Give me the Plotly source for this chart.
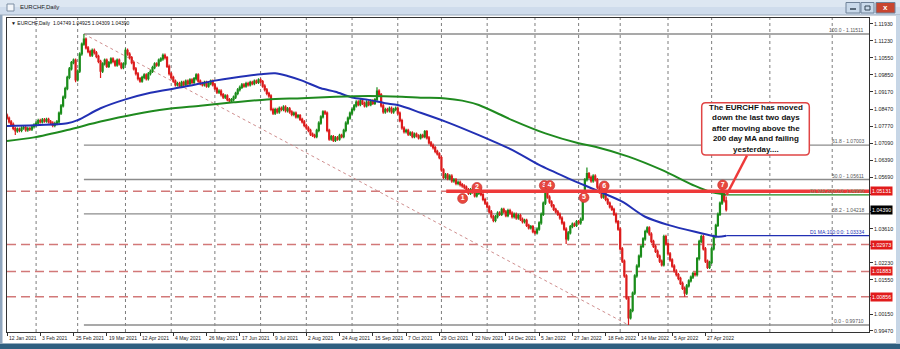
import plotly.graph_objects as go

# ---------------- data ----------------
date_labels = ["12 Jan 2021", "3 Feb 2021", "25 Feb 2021", "19 Mar 2021", "12 Apr 2021",
               "4 May 2021", "26 May 2021", "17 Jun 2021", "9 Jul 2021", "2 Aug 2021",
               "24 Aug 2021", "15 Sep 2021", "7 Oct 2021", "29 Oct 2021", "22 Nov 2021",
               "14 Dec 2021", "5 Jan 2022", "27 Jan 2022", "18 Feb 2022", "14 Mar 2022",
               "5 Apr 2022", "27 Apr 2022"]
date_label_bars = [0, 16, 32, 48, 64, 80, 96, 112, 128, 144, 160, 176, 192, 208, 224,
                   240, 256, 272, 288, 304, 320, 336]
month_grid_bars = [14, 34, 57, 79, 100, 122, 144, 166, 188, 209, 231, 254, 275, 295, 318, 339, 367, 397]

first_open = 1.0822
closes = [
    1.0810, 1.0795, 1.0785, 1.0768, 1.0758,
    1.0765, 1.0760, 1.0770, 1.0772, 1.0762,
    1.0768, 1.0765, 1.0775, 1.0782,
    1.0790, 1.0800, 1.0795, 1.0803, 1.0798,
    1.0805, 1.0795, 1.0790, 1.0780, 1.0788,
    1.0795, 1.0830, 1.0860, 1.0895, 1.0930,
    1.0975, 1.1010, 1.1035, 1.1045, 1.0965,
    1.1000, 1.1070, 1.1110, 1.1130,
    1.1095, 1.1080, 1.1065, 1.1085, 1.1075, 1.1060, 1.1040, 1.1000,
    1.1030, 1.1045, 1.1020, 1.1035, 1.1050,
    1.1040, 1.1025, 1.1045, 1.1030, 1.1015, 1.1030,
    1.1085,
    1.1070, 1.1055, 1.1035, 1.1010, 1.0990, 1.0970, 1.0960,
    1.0975, 1.0985, 1.0970, 1.0990, 1.1000,
    1.1015, 1.1030, 1.1025, 1.1045, 1.1050, 1.1065, 1.1055,
    1.1020, 1.0990, 1.0975, 1.0960, 1.0945, 1.0950, 1.0940,
    1.0955, 1.0945, 1.0960, 1.0950, 1.0965, 1.0955, 1.0970, 1.0985,
    1.0960, 1.0950, 1.0945, 1.0955, 1.0940, 1.0950, 1.0960, 1.0945,
    1.0930, 1.0915, 1.0920, 1.0905, 1.0895, 1.0900, 1.0885, 1.0880, 1.0885,
    1.0895, 1.0910, 1.0925, 1.0935, 1.0945, 1.0940, 1.0950, 1.0945, 1.0955, 1.0950, 1.0960, 1.0955, 1.0965, 1.0958,
    1.0940, 1.0925, 1.0910, 1.0900, 1.0845,
    1.0830, 1.0845, 1.0835, 1.0850, 1.0845, 1.0855, 1.0840, 1.0848, 1.0835, 1.0825, 1.0830, 1.0815, 1.0820, 1.0805,
    1.0795, 1.0780, 1.0770, 1.0760, 1.0745, 1.0740, 1.0735,
    1.0760, 1.0790, 1.0815, 1.0835, 1.0830,
    1.0760, 1.0725, 1.0735,
    1.0720, 1.0730, 1.0725, 1.0740, 1.0735,
    1.0760, 1.0790, 1.0810, 1.0830, 1.0845, 1.0860,
    1.0875, 1.0865, 1.0880, 1.0870, 1.0860, 1.0875, 1.0865, 1.0880, 1.0870, 1.0885,
    1.0920, 1.0905,
    1.0860, 1.0835, 1.0845,
    1.0840, 1.0850, 1.0835, 1.0845, 1.0850, 1.0830,
    1.0800, 1.0770, 1.0755, 1.0760, 1.0745, 1.0750, 1.0735, 1.0745, 1.0738, 1.0730, 1.0740,
    1.0735, 1.0755,
    1.0730, 1.0710, 1.0700, 1.0690, 1.0675, 1.0665, 1.0650,
    1.0600, 1.0570,
    1.0580, 1.0565, 1.0575, 1.0555, 1.0560, 1.0545, 1.0550, 1.0540, 1.0535, 1.0530,
    1.0520, 1.0505, 1.0520, 1.0510, 1.0495, 1.0505, 1.0520, 1.0500,
    1.0480, 1.0465, 1.0450, 1.0430, 1.0410, 1.0395,
    1.0410, 1.0425, 1.0420, 1.0440, 1.0430, 1.0415, 1.0435, 1.0425, 1.0410, 1.0420, 1.0405, 1.0415,
    1.0400, 1.0390, 1.0395, 1.0375, 1.0365, 1.0370, 1.0350, 1.0345, 1.0360,
    1.0385, 1.0420, 1.0465, 1.0505,
    1.0490, 1.0470, 1.0455, 1.0440, 1.0430, 1.0420,
    1.0405, 1.0385, 1.0360, 1.0320, 1.0345,
    1.0370, 1.0380, 1.0375, 1.0390, 1.0385, 1.0400,
    1.0480, 1.0560, 1.0585,
    1.0570, 1.0555, 1.0575, 1.0560,
    1.0530, 1.0510, 1.0490, 1.0505, 1.0480, 1.0465, 1.0450, 1.0440,
    1.0420, 1.0390, 1.0360,
    1.0280, 1.0230, 1.0170,
    1.0080, 1.0000, 1.0030,
    1.0100, 1.0170, 1.0210, 1.0250, 1.0290, 1.0320, 1.0350,
    1.0365,
    1.0340, 1.0310, 1.0290, 1.0270, 1.0250, 1.0230, 1.0215,
    1.0330, 1.0300,
    1.0260, 1.0235, 1.0210, 1.0190, 1.0175, 1.0160,
    1.0140, 1.0120, 1.0100, 1.0130, 1.0150,
    1.0165, 1.0180, 1.0175,
    1.0240, 1.0310, 1.0330,
    1.0280, 1.0230, 1.0205,
    1.0225, 1.0280, 1.0330, 1.0375, 1.0420, 1.0465,
    1.0505, 1.04749, 1.04390,
]
# explicit extremes of the longer wicks
wick_highs = {37: 1.11511, 57: 1.1093, 178: 1.0935, 259: 1.0515, 279: 1.0610, 344: 1.0530, 346: 1.04925}
wick_lows = {4: 1.0742, 33: 1.0955, 45: 1.0973, 269: 1.0300, 299: 0.99710, 326: 1.0086, 346: 1.04309}

ma100_bars = [0, 13, 29, 34, 45, 57, 69, 84, 100, 109, 122, 129, 135, 142, 151, 158, 166, 174, 182,
              188, 199, 211, 227, 243, 256, 270, 285, 296, 307, 318, 331, 342, 346]
ma100_vals = [1.0778, 1.0781, 1.0789, 1.0802, 1.0850, 1.0886, 1.0913, 1.0935, 1.0962, 1.0974, 1.0988,
              1.0992, 1.0981, 1.0962, 1.0931, 1.0917, 1.0894, 1.0884, 1.0870, 1.0863, 1.0832, 1.0796,
              1.0741, 1.0681, 1.0620, 1.0566, 1.0512, 1.0471, 1.0410, 1.0377, 1.0349, 1.0329, 1.03334]
ma200_bars = [0, 13, 29, 45, 61, 77, 93, 109, 125, 142, 158, 174, 190, 199, 211, 219, 227, 243, 259,
              275, 283, 299, 315, 331, 338, 346]
ma200_vals = [1.0717, 1.0732, 1.0762, 1.0796, 1.0825, 1.0847, 1.0860, 1.0874, 1.0886, 1.0891, 1.0897,
              1.0900, 1.0897, 1.0893, 1.0890, 1.0881, 1.0863, 1.0802, 1.0748, 1.0708, 1.0694, 1.0654,
              1.0600, 1.0535, 1.0512, 1.0499]

y_tick_vals = [1.11930, 1.11230, 1.10550, 1.09850, 1.09170, 1.08470, 1.07770, 1.07090, 1.06390,
               1.05690, 1.05010, 1.04310, 1.03610, 1.02930, 1.02230, 1.01550, 1.00850, 1.00150, 0.99470]
# tick labels that sit under a price tag in the reference
y_ticks_covered = [1.05010, 1.04310, 1.02930, 1.00850]

fib_levels = [1.11511, 1.07003, 1.05611, 1.04218, 0.99710]
fib_names = ["100.0", "61.8", "50.0", "38.2", "0.0"]
fib_start_bar, fib_end_bar = 37, 299
red_dashed_levels = [1.05131, 1.02973, 1.01883, 1.00856]
resistance_level = 1.05131
resistance_start_bar = 211.3
ma100_last, ma200_last = 1.03334, 1.04990
last_price = 1.04390

marker_labels = ["1", "2", "3", "4", "5", "6", "7"]
marker_bars = [219.2, 226.1, 258.5, 261.1, 277.6, 287.3, 344.3]
marker_prices = [1.0484, 1.0529, 1.0537, 1.0537, 1.0488, 1.0535, 1.0539]

header = "EURCHF,Daily  1.04749 1.04925 1.04309 1.04390"
note_lines = ["The EURCHF has moved", "down the last two days", "after moving above the",
              "200 day MA and failing", "yesterday...."]

# ---------------- build OHLC ----------------
n = len(closes)
bars = list(range(n))
opens = [first_open] + closes[:-1]
WICK = 0.0007
highs = [max(o, c) + WICK for o, c in zip(opens, closes)]
lows = [min(o, c) - WICK for o, c in zip(opens, closes)]
for k, v in wick_highs.items():
    if k < n:
        highs[k] = v
for k, v in wick_lows.items():
    if k < n:
        lows[k] = v

# ---------------- geometry (pixels -> paper) ----------------
L, R, T, B = 7, 869, 18, 332
W, H = R - L, B - T
def px(X):
    return (X - L) / W
def py(Y):
    return (B - Y) / H

X_RANGE = [0.0, 414.7]
Y_RANGE = [0.99427, 1.12160]

GREEN = "#1a8c1a"
RED = "#dc1c1c"
BLUE = "#2230b4"
MAGREEN = "#1f8a1f"
FONT = "Liberation Sans, Arial, sans-serif"

fig = go.Figure()

fig.add_trace(go.Candlestick(
    x=bars, open=opens, high=highs, low=lows, close=closes,
    increasing=dict(line=dict(color=GREEN, width=1.2), fillcolor=GREEN),
    decreasing=dict(line=dict(color=RED, width=1.2), fillcolor=RED),
    whiskerwidth=0, showlegend=False, hoverinfo="skip"))

fig.add_trace(go.Scatter(x=ma100_bars, y=ma100_vals, mode="lines",
                         line=dict(color=BLUE, width=2, shape="spline", smoothing=0.8),
                         showlegend=False, hoverinfo="skip"))
fig.add_trace(go.Scatter(x=ma200_bars, y=ma200_vals, mode="lines",
                         line=dict(color=MAGREEN, width=2, shape="spline", smoothing=0.8),
                         showlegend=False, hoverinfo="skip"))

shapes = []
annotations = []

# vertical dotted grid
for b in month_grid_bars:
    shapes.append(dict(type="line", xref="x", yref="paper", x0=b, x1=b, y0=0, y1=1,
                       line=dict(color="#7d7d7d", width=1, dash="dot"), layer="below"))

# red dashed support/resistance lines
for lv in red_dashed_levels:
    shapes.append(dict(type="line", xref="paper", yref="y", x0=0, x1=1, y0=lv, y1=lv,
                       line=dict(color="#d27878", width=1.5, dash="9px,5px"), layer="below"))

# fibonacci lines
for lv, nm in zip(fib_levels, fib_names):
    shapes.append(dict(type="line", xref="x", yref="y", x0=fib_start_bar, x1=X_RANGE[1], y0=lv, y1=lv,
                       line=dict(color="#8c8c8c", width=1.3), layer="below"))
    annotations.append(dict(xref="paper", yref="y", x=px(866), y=lv, xanchor="right", yanchor="bottom",
                            text=f"{nm} - {lv:.5f}", showarrow=False, yshift=-1,
                            font=dict(family=FONT, size=5, color="#555555")))
shapes.append(dict(type="line", xref="x", yref="y", x0=fib_start_bar, x1=fib_end_bar,
                   y0=fib_levels[0], y1=fib_levels[-1],
                   line=dict(color="#cf8e8e", width=1, dash="dot"), layer="below"))

# MA extensions to the right
last_bar = n - 1
shapes.append(dict(type="line", xref="x", yref="y", x0=last_bar, x1=X_RANGE[1], y0=ma100_last, y1=ma100_last,
                   line=dict(color=BLUE, width=1.3)))
shapes.append(dict(type="line", xref="x", yref="y", x0=last_bar, x1=X_RANGE[1], y0=ma200_last, y1=ma200_last,
                   line=dict(color=MAGREEN, width=1.3)))
annotations.append(dict(xref="paper", yref="y", x=px(866), y=ma100_last, xanchor="right", yanchor="bottom",
                        text="D1 MA:100:0:0: 1.03334", showarrow=False, yshift=-1,
                        font=dict(family=FONT, size=5, color=BLUE)))
annotations.append(dict(xref="paper", yref="y", x=px(866), y=ma200_last, xanchor="right", yanchor="bottom",
                        text="D1 MA:200:0:0: 1.04990", showarrow=False, yshift=-1,
                        font=dict(family=FONT, size=5, color="#6f9a6f")))

# thick red resistance line
shapes.append(dict(type="line", xref="x", yref="y", x0=resistance_start_bar, x1=X_RANGE[1],
                   y0=resistance_level, y1=resistance_level,
                   line=dict(color="#ee3a3a", width=3.5)))

# numbered markers
for lab, b, p in zip(marker_labels, marker_bars, marker_prices):
    fig.add_trace(go.Scatter(x=[b], y=[p], mode="markers+text", text=[f"<b>{lab}</b>"],
                             textposition="middle center",
                             textfont=dict(family=FONT, size=7, color="white"),
                             marker=dict(size=10, color="#e8483e", line=dict(color="#c03030", width=0.6)),
                             showlegend=False, hoverinfo="skip"))

# note box (rounded) and arrow
bx0, bx1, by0, by1, r = 701.7, 809.3, 102.7, 155.0, 4
def P(X, Y):
    return f"{px(X):.5f},{py(Y):.5f}"
path = (f"M {P(bx0 + r, by0)} L {P(bx1 - r, by0)} Q {P(bx1, by0)} {P(bx1, by0 + r)} "
        f"L {P(bx1, by1 - r)} Q {P(bx1, by1)} {P(bx1 - r, by1)} L {P(bx0 + r, by1)} "
        f"Q {P(bx0, by1)} {P(bx0, by1 - r)} L {P(bx0, by0 + r)} Q {P(bx0, by0)} {P(bx0 + r, by0)} Z")
shapes.append(dict(type="path", xref="paper", yref="paper", path=path,
                   line=dict(color="#e04545", width=1.5), fillcolor="white"))
shapes.append(dict(type="line", xref="paper", yref="paper", x0=px(747), y0=py(155.5), x1=px(726.5), y1=py(195),
                   line=dict(color="#ee3a3a", width=2.5)))
annotations.append(dict(xref="paper", yref="paper", x=px(755.5), y=py(128.8), xanchor="center", yanchor="middle",
                        text="<br>".join(f"<b>{t}</b>" for t in note_lines), showarrow=False, align="center",
                        font=dict(family=FONT, size=8, color="#111111")))

# price tags on the right axis
for lv in red_dashed_levels:
    annotations.append(dict(xref="paper", yref="y", x=1, y=lv, xanchor="left", yanchor="middle", xshift=1,
                            text=f"{lv:.5f}", showarrow=False, bgcolor="#e11b1b", borderpad=1,
                            font=dict(family=FONT, size=5.3, color="white")))
annotations.append(dict(xref="paper", yref="y", x=1, y=last_price, xanchor="left", yanchor="middle", xshift=1,
                        text=f"{last_price:.5f}", showarrow=False, bgcolor="#000000", borderpad=1,
                        font=dict(family=FONT, size=5.3, color="white")))

# date labels (left aligned at their bar)
for b, t in zip(date_label_bars, date_labels):
    annotations.append(dict(xref="x", yref="paper", x=b, y=py(337.5), xanchor="left", yanchor="middle",
                            xshift=0, text=t, showarrow=False,
                            font=dict(family=FONT, size=5, color="#222222")))

# header text inside chart
annotations.append(dict(xref="paper", yref="paper", x=px(9), y=py(23), xanchor="left", yanchor="middle",
                        text="\u25BC " + header, showarrow=False,
                        font=dict(family=FONT, size=5, color="#111111")))

# window chrome
shapes.append(dict(type="rect", xref="paper", yref="paper", x0=px(0), x1=px(900), y0=py(15), y1=py(0),
                   line=dict(width=0), fillcolor="#cfdcec", layer="below"))
shapes.append(dict(type="rect", xref="paper", yref="paper", x0=px(0), x1=px(900), y0=py(7), y1=py(0),
                   line=dict(width=0), fillcolor="#dde7f2", layer="below"))
shapes.append(dict(type="line", xref="paper", yref="paper", x0=px(0), x1=px(900), y0=py(15), y1=py(15),
                   line=dict(color="#9aaabb", width=1)))
shapes.append(dict(type="rect", xref="paper", yref="paper", x0=px(0), x1=px(900), y0=py(349), y1=py(343.5),
                   line=dict(width=0), fillcolor="#2f5f80"))
shapes.append(dict(type="rect", xref="paper", yref="paper", x0=px(0), x1=px(2.5), y0=py(343.5), y1=py(15),
                   line=dict(width=0), fillcolor="#8fa5bd"))
shapes.append(dict(type="rect", xref="paper", yref="paper", x0=px(896), x1=px(900), y0=py(343.5), y1=py(15),
                   line=dict(width=0), fillcolor="#c7d6e6"))
# title icon and buttons
shapes.append(dict(type="rect", xref="paper", yref="paper", x0=px(7), x1=px(14), y0=py(11), y1=py(4),
                   line=dict(color="#7c8ea3", width=1), fillcolor="#f3f6fa"))
for x0, x1, col in [(846, 860, "#c9d9ea"), (861, 874, "#c9d9ea"), (876, 895, "#c8452f")]:
    shapes.append(dict(type="rect", xref="paper", yref="paper", x0=px(x0), x1=px(x1), y0=py(13), y1=py(2.5),
                       line=dict(color="#6f8299", width=1), fillcolor=col))
shapes.append(dict(type="line", xref="paper", yref="paper", x0=px(850), x1=px(856), y0=py(9), y1=py(9),
                   line=dict(color="#334455", width=1.5)))
shapes.append(dict(type="rect", xref="paper", yref="paper", x0=px(865), x1=px(870), y0=py(10), y1=py(6),
                   line=dict(color="#334455", width=1)))
annotations.append(dict(xref="paper", yref="paper", x=px(885.5), y=py(7.7), xanchor="center", yanchor="middle",
                        text="<b>x</b>", showarrow=False, font=dict(family=FONT, size=8, color="white")))
annotations.append(dict(xref="paper", yref="paper", x=px(18), y=py(7.5), xanchor="left", yanchor="middle",
                        text="EURCHF,Daily", showarrow=False, font=dict(family=FONT, size=6, color="#1a1a1a")))

y_tick_text = ["" if v in y_ticks_covered else f"{v:.5f}" for v in y_tick_vals]

fig.update_layout(
    width=900, height=349, autosize=False,
    margin=dict(l=L, r=900 - R, t=T, b=349 - B),
    paper_bgcolor="white", plot_bgcolor="white",
    shapes=shapes, annotations=annotations, showlegend=False,
    xaxis=dict(range=X_RANGE, rangeslider=dict(visible=False), showgrid=False, zeroline=False,
               showline=True, linecolor="#333333", linewidth=1, mirror=True,
               tickmode="array", tickvals=date_label_bars, ticks="outside", ticklen=3,
               tickcolor="#333333", showticklabels=False, fixedrange=True),
    yaxis=dict(range=Y_RANGE, side="right", showgrid=False, zeroline=False,
               showline=True, linecolor="#333333", linewidth=1, mirror=True,
               tickmode="array", tickvals=y_tick_vals, ticktext=y_tick_text,
               ticks="outside", ticklen=3, tickcolor="#333333",
               tickfont=dict(family=FONT, size=5.3, color="#222222"), fixedrange=True),
)

fig.write_html("out.html")
